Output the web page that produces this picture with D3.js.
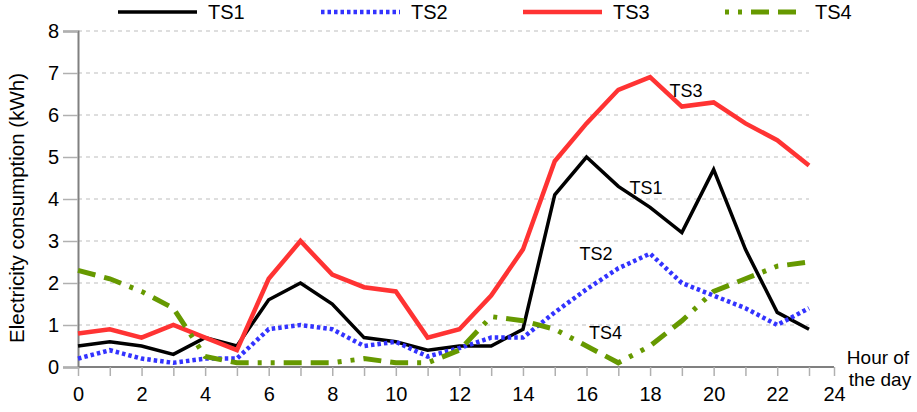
<!DOCTYPE html>
<html>
<head>
<meta charset="utf-8">
<script src="https://cdnjs.cloudflare.com/ajax/libs/d3/7.8.5/d3.min.js"></script>
<style>
  body { margin: 0; background: #fff; }
  svg { font-family: "Liberation Sans", Arial, sans-serif; }
</style>
</head>
<body>
<div id="chart"></div>
<script>
// hours 0..23
const hours = d3.range(0, 24);
const ts1 = [0.5, 0.6, 0.5, 0.3, 0.7, 0.5, 1.6, 2.0, 1.5, 0.7, 0.6, 0.4, 0.5, 0.5, 0.9, 4.1, 5.0, 4.3, 3.8, 3.2, 4.7, 2.8, 1.3, 0.9];
const ts2 = [0.2, 0.4, 0.2, 0.1, 0.2, 0.2, 0.9, 1.0, 0.9, 0.5, 0.6, 0.25, 0.45, 0.7, 0.7, 1.3, 1.85, 2.35, 2.7, 2.0, 1.7, 1.4, 1.0, 1.4];
const ts3 = [0.8, 0.9, 0.7, 1.0, 0.7, 0.4, 2.1, 3.0, 2.2, 1.9, 1.8, 0.7, 0.9, 1.7, 2.8, 4.9, 5.8, 6.6, 6.9, 6.2, 6.3, 5.8, 5.4, 4.8];
const ts4 = [2.3, 2.1, 1.8, 1.4, 0.25, 0.1, 0.1, 0.1, 0.1, 0.2, 0.1, 0.1, 0.4, 1.2, 1.1, 0.9, 0.5, 0.1, 0.5, 1.1, 1.8, 2.1, 2.4, 2.5];
const xTicks = d3.range(0, 25);
const yTicks = d3.range(0, 9);

const seriesNames = ["TS1", "TS2", "TS3", "TS4"];
const seriesValues = [ts1, ts2, ts3, ts4];
const styles = {
  TS1: { color: "#000000", width: 3.5, dash: null },
  TS2: { color: "#3333ff", width: 4.5, dash: "3.5,3" },
  TS3: { color: "#ff3333", width: 4.5, dash: null },
  TS4: { color: "#669900", width: 5, dash: "18,9,18,9,4,9,4,9" }
};
// label positions inside the plot (hour, value at text baseline)
const inlineLabels = [
  { name: "TS3", h: 19.13, v: 6.43 },
  { name: "TS1", h: 17.87, v: 4.12 },
  { name: "TS2", h: 16.3, v: 2.55 },
  { name: "TS4", h: 16.6, v: 0.67 }
];

const width = 917, height = 412;
const svg = d3.select("#chart").append("svg")
  .attr("width", width)
  .attr("height", height);

const x = d3.scaleLinear().domain([0, 23, 24]).range([78, 809, 834]);
const y = d3.scaleLinear().domain([0, 8]).range([367, 31]);

// gridlines
svg.append("g")
  .selectAll("line")
  .data(yTicks.filter((d) => d > 0))
  .enter()
  .append("line")
  .attr("x1", x(0))
  .attr("x2", x(23))
  .attr("y1", (d) => y(d))
  .attr("y2", (d) => y(d))
  .attr("stroke", "#bdbdbd")
  .attr("stroke-width", 1)
  .attr("stroke-dasharray", "4,4");

// y axis
const yAxis = svg.append("g")
  .attr("transform", "translate(" + x(0) + ",0)")
  .call(d3.axisLeft(y).tickValues(yTicks).tickSize(15).tickPadding(4));
yAxis.select(".domain").attr("stroke", "#808080").attr("stroke-width", 2);
yAxis.selectAll(".tick line").attr("stroke", "#b0b0b0").attr("stroke-width", 1.5);
yAxis.selectAll("text").attr("font-size", "20px").attr("fill", "#000")
  .attr("font-family", "Liberation Sans, Arial, sans-serif");

// x axis
const xAxis = svg.append("g")
  .attr("transform", "translate(0," + y(0) + ")")
  .call(d3.axisBottom(x).tickValues(xTicks).tickSize(9).tickPadding(11)
    .tickFormat((d) => (d % 2 === 0 ? d : "")));
xAxis.select(".domain").attr("stroke", "#808080").attr("stroke-width", 2)
  .attr("d", "M" + x(0) + ",0H" + x(24));
xAxis.selectAll(".tick line").attr("stroke", "#b0b0b0").attr("stroke-width", 1.5);
xAxis.selectAll("text").attr("font-size", "20px").attr("fill", "#000")
  .attr("font-family", "Liberation Sans, Arial, sans-serif");

// axis titles
svg.append("text")
  .attr("transform", "translate(24,208) rotate(-90)")
  .attr("text-anchor", "middle")
  .attr("font-size", "20.5px")
  .text("Electricity consumption (kWh)");

const xTitle = svg.append("text")
  .attr("text-anchor", "middle")
  .attr("font-size", "19px");
xTitle.append("tspan").attr("x", 878).attr("y", 364).text("Hour of");
xTitle.append("tspan").attr("x", 880).attr("y", 386).text("the day");

// lines
const line = d3.line()
  .x((d) => x(d.h))
  .y((d) => y(d.v));

seriesNames.forEach((name, i) => {
  const pts = hours.map((h, j) => ({ h: h, v: seriesValues[i][j] }));
  const s = styles[name];
  svg.append("path")
    .datum(pts)
    .attr("fill", "none")
    .attr("stroke", s.color)
    .attr("stroke-width", s.width)
    .attr("stroke-dasharray", s.dash)
    .attr("stroke-linejoin", "miter")
    .attr("d", line);
});

// inline labels
svg.selectAll(".inlineLabel")
  .data(inlineLabels)
  .enter()
  .append("text")
  .attr("class", "inlineLabel")
  .attr("x", (d) => x(d.h))
  .attr("y", (d) => y(d.v))
  .attr("text-anchor", "middle")
  .attr("font-size", "18px")
  .text((d) => d.name);

// legend
const legendX = [118, 321, 523, 725];
const legend = svg.selectAll(".legend")
  .data(seriesNames)
  .enter()
  .append("g")
  .attr("class", "legend")
  .attr("transform", (d, i) => "translate(" + legendX[i] + ",12)");

legend.append("line")
  .attr("x1", 0)
  .attr("x2", 79)
  .attr("y1", 0)
  .attr("y2", 0)
  .attr("stroke", (d) => styles[d].color)
  .attr("stroke-width", (d) => styles[d].width)
  .attr("stroke-dasharray", (d) => (d === "TS4" ? "4,9,4,9,18,9,18,9" : styles[d].dash));

legend.append("text")
  .attr("x", 90)
  .attr("y", 7)
  .attr("font-size", "20px")
  .text((d) => d);
</script>
</body>
</html>
